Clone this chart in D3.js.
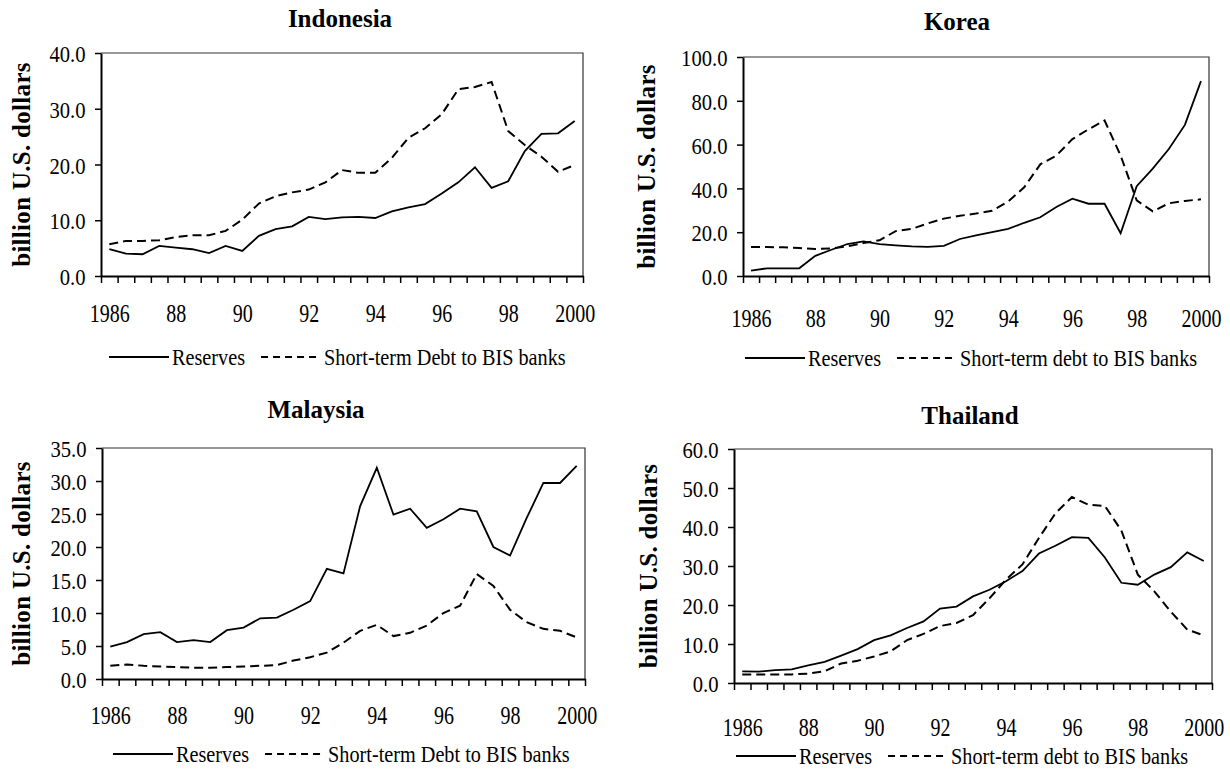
<!DOCTYPE html>
<html>
<head>
<meta charset="utf-8">
<script src="https://cdn.jsdelivr.net/npm/d3@7"></script>
<style>
  body { margin: 0; background: #fff; }
  svg text { font-family: "Liberation Serif", "DejaVu Serif", serif; fill: #000; }
</style>
</head>
<body>
<div id="chart"></div>
<script>
// Semi-annual categories, 1986 to 2000
const years = [1986, 1986.5, 1987, 1987.5, 1988, 1988.5, 1989, 1989.5, 1990, 1990.5,
  1991, 1991.5, 1992, 1992.5, 1993, 1993.5, 1994, 1994.5, 1995, 1995.5,
  1996, 1996.5, 1997, 1997.5, 1998, 1998.5, 1999, 1999.5, 2000];
const tickYears = [1986, 1988, 1990, 1992, 1994, 1996, 1998, 2000];
const tickLabels = ["1986", "88", "90", "92", "94", "96", "98", "2000"];

// Values, billion U.S. dollars
const indonesiaReserves = [4.8, 4.0, 3.9, 5.4, 5.1, 4.8, 4.1, 5.4, 4.5, 7.2, 8.4, 8.9, 10.6, 10.2, 10.5,
  10.6, 10.4, 11.6, 12.3, 12.9, 14.8, 16.8, 19.5, 15.8, 17.0, 22.4, 25.5, 25.6, 27.8];
const indonesiaDebt = [5.7, 6.3, 6.3, 6.4, 7.0, 7.3, 7.3, 8.1, 10.1, 13.0, 14.3, 15.0, 15.5, 16.8, 19.0,
  18.5, 18.5, 21.2, 24.8, 26.5, 29.0, 33.5, 33.9, 34.8, 26.0, 23.5, 21.4, 18.7, 19.9];
const koreaReserves = [2.5, 3.5, 3.5, 3.5, 9.2, 12.0, 14.6, 15.8, 14.6, 14.0, 13.5, 13.3, 13.8, 16.9, 18.6,
  20.0, 21.5, 24.3, 26.8, 31.5, 35.3, 33.0, 33.0, 19.5, 41.0, 49.0, 58.0, 69.0, 89.0];
const koreaDebt = [13.2, 13.2, 13.1, 12.8, 12.3, 12.6, 13.5, 15.1, 16.3, 20.5, 21.5, 24.0, 26.2, 27.5, 28.5,
  29.8, 34.0, 40.5, 51.0, 55.0, 62.5, 67.0, 71.0, 55.0, 34.5, 29.5, 33.2, 34.3, 35.0];
const malaysiaReserves = [4.9, 5.6, 6.8, 7.1, 5.6, 5.9, 5.6, 7.4, 7.8, 9.2, 9.3, 10.5, 11.8, 16.7, 16.0,
  26.2, 32.0, 24.9, 25.8, 22.9, 24.2, 25.8, 25.4, 20.0, 18.7, 24.4, 29.7, 29.7, 32.3];
const malaysiaDebt = [2.0, 2.2, 2.0, 1.9, 1.8, 1.7, 1.7, 1.8, 1.9, 2.0, 2.1, 2.8, 3.3, 4.0, 5.5,
  7.3, 8.2, 6.5, 7.0, 8.1, 10.0, 11.1, 15.9, 14.1, 10.5, 8.6, 7.6, 7.3, 6.3];
const thailandReserves = [3.0, 2.9, 3.3, 3.5, 4.5, 5.4, 7.0, 8.7, 11.0, 12.2, 14.1, 15.8, 19.1, 19.6, 22.2,
  23.9, 26.1, 28.7, 33.2, 35.2, 37.4, 37.2, 32.2, 25.7, 25.2, 27.8, 29.7, 33.5, 31.3];
const thailandDebt = [2.2, 2.2, 2.2, 2.2, 2.4, 3.0, 5.0, 5.7, 6.8, 8.1, 11.0, 12.6, 14.6, 15.4, 17.4,
  21.7, 26.5, 30.4, 37.2, 43.5, 47.7, 45.7, 45.4, 39.1, 27.8, 23.5, 18.3, 13.7, 12.2];

const w = 1230;
const h = 773;
const serif = "'Liberation Serif', 'DejaVu Serif', serif";
const squeeze = 0.88; // the scanned labels are narrow

const svg = d3.select("#chart")
  .append("svg")
  .attr("width", w)
  .attr("height", h)
  .style("font-family", serif);

svg.append("rect").attr("width", w).attr("height", h).attr("fill", "#fff");

const panels = [
  { title: "Indonesia", reserves: indonesiaReserves, debt: indonesiaDebt,
    yTicks: [0, 10, 20, 30, 40], debtLabel: "Short-term Debt to BIS banks",
    left: 101, right: 583, top: 53, bottom: 276,
    titleX: 340, titleY: 27, yLabelX: 30, xLabelY: 322, legendX: 109, legendY: 357 },
  { title: "Korea", reserves: koreaReserves, debt: koreaDebt,
    yTicks: [0, 20, 40, 60, 80, 100], debtLabel: "Short-term debt to BIS banks",
    left: 743, right: 1209, top: 57, bottom: 276,
    titleX: 957, titleY: 30, yLabelX: 655, xLabelY: 327, legendX: 745, legendY: 358 },
  { title: "Malaysia", reserves: malaysiaReserves, debt: malaysiaDebt,
    yTicks: [0, 5, 10, 15, 20, 25, 30, 35], debtLabel: "Short-term Debt to BIS banks",
    left: 102, right: 585, top: 448, bottom: 679,
    titleX: 316, titleY: 418, yLabelX: 30, xLabelY: 724, legendX: 113, legendY: 754 },
  { title: "Thailand", reserves: thailandReserves, debt: thailandDebt,
    yTicks: [0, 10, 20, 30, 40, 50, 60], debtLabel: "Short-term debt to BIS banks",
    left: 734, right: 1212, top: 449, bottom: 683,
    titleX: 970, titleY: 424, yLabelX: 657, xLabelY: 736, legendX: 736, legendY: 756 }
];

panels.forEach(p => {
  const g = svg.append("g");

  // Scales: categories sit between half-year tick marks
  const x = d3.scaleLinear().domain([1985.75, 2000.25]).range([p.left, p.right]);
  const y = d3.scaleLinear().domain([0, d3.max(p.yTicks)]).range([p.bottom, p.top]);

  // Frame (top and right)
  g.append("path")
    .attr("d", `M${p.left},${p.top}H${p.right}V${p.bottom}`)
    .attr("fill", "none")
    .attr("stroke", "#333")
    .attr("stroke-width", 1.2);

  // Y axis
  const yAxis = g.append("g")
    .attr("transform", `translate(${p.left},0)`)
    .call(d3.axisLeft(y).tickValues(p.yTicks).tickFormat(d3.format(".1f"))
      .tickSize(6).tickSizeOuter(0).tickPadding(12));
  yAxis.attr("font-family", serif);
  yAxis.select(".domain").attr("stroke", "#000").attr("stroke-width", 2);
  yAxis.selectAll(".tick line").attr("stroke", "#000").attr("stroke-width", 1.5);
  yAxis.selectAll("text")
    .attr("font-size", 24)
    .attr("dy", "0.36em")
    .attr("transform", "scale(0.86,1)");

  // X axis: tick marks between categories
  const boundaries = [1985.75].concat(years.map(v => v + 0.25));
  const xAxis = g.append("g")
    .attr("transform", `translate(0,${p.bottom})`)
    .call(d3.axisBottom(x).tickValues(boundaries).tickFormat("")
      .tickSize(7).tickSizeOuter(0));
  xAxis.select(".domain").attr("stroke", "#000").attr("stroke-width", 2);
  xAxis.selectAll(".tick line").attr("stroke", "#000").attr("stroke-width", 1.5);

  // X labels
  const xLab = g.append("g")
    .attr("transform", `translate(0,${p.xLabelY})`)
    .call(d3.axisBottom(x).tickValues(tickYears).tickFormat((d, i) => tickLabels[i]).tickSize(0));
  xLab.attr("font-family", serif);
  xLab.select(".domain").remove();
  xLab.selectAll("text")
    .attr("y", 0).attr("dy", 0)
    .attr("font-size", 25)
    .attr("transform", "scale(0.8,1)");

  // Lines
  const line = d3.line()
    .x((d, i) => x(years[i]))
    .y(d => y(d));

  g.append("path")
    .datum(p.debt)
    .attr("fill", "none")
    .attr("stroke", "#000")
    .attr("stroke-width", 2)
    .attr("stroke-dasharray", "9,5")
    .attr("d", line);

  g.append("path")
    .datum(p.reserves)
    .attr("fill", "none")
    .attr("stroke", "#000")
    .attr("stroke-width", 1.8)
    .attr("d", line);

  // Title
  g.append("text")
    .attr("x", p.titleX)
    .attr("y", p.titleY)
    .attr("text-anchor", "middle")
    .attr("font-size", 25)
    .attr("font-weight", "bold")
    .text(p.title);

  // Y label
  g.append("text")
    .attr("transform", `translate(${p.yLabelX},${(p.top + p.bottom) / 2}) rotate(-90)`)
    .attr("text-anchor", "middle")
    .attr("font-size", 25)
    .attr("font-weight", "bold")
    .attr("letter-spacing", 0.3)
    .text("billion U.S. dollars");

  // Legend
  let lx = p.legendX;
  g.append("line")
    .attr("x1", lx).attr("x2", lx + 60)
    .attr("y1", p.legendY).attr("y2", p.legendY)
    .attr("stroke", "#000").attr("stroke-width", 1.8);
  lx += 63;
  const t1 = g.append("text")
    .attr("transform", `translate(${lx},${p.legendY + 8}) scale(${squeeze},1)`)
    .attr("font-size", 23)
    .text("Reserves");
  lx += t1.node().getComputedTextLength() * squeeze + 16;
  g.append("line")
    .attr("x1", lx).attr("x2", lx + 55)
    .attr("y1", p.legendY).attr("y2", p.legendY)
    .attr("stroke", "#000").attr("stroke-width", 2)
    .attr("stroke-dasharray", "7,5");
  lx += 63;
  g.append("text")
    .attr("transform", `translate(${lx},${p.legendY + 8}) scale(${squeeze},1)`)
    .attr("font-size", 23)
    .text(p.debtLabel);
});
</script>
</body>
</html>
